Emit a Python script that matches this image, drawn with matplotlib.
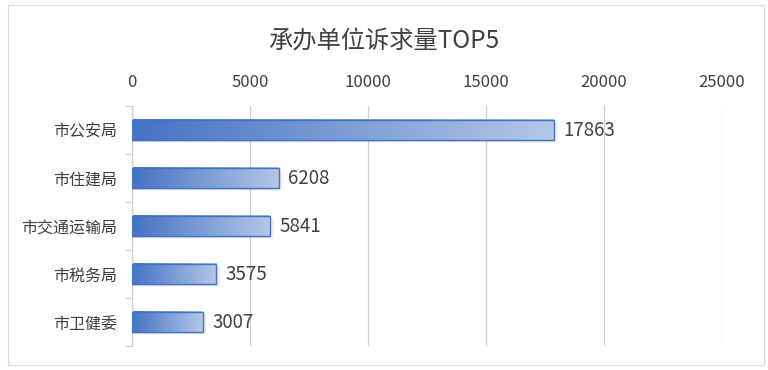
import matplotlib.pyplot as plt
import numpy as np
from matplotlib.colors import LinearSegmentedColormap
from matplotlib.patches import Rectangle

plt.rcParams['font.family'] = ['Noto Sans CJK SC', 'DejaVu Sans']

categories = ["市公安局", "市住建局", "市交通运输局", "市税务局", "市卫健委"]
values = [17863, 6208, 5841, 3575, 3007]
xticks = [0, 5000, 10000, 15000, 20000, 25000]

text_color = "#404040"
grid_color = "#D0D0D0"
grad = LinearSegmentedColormap.from_list("bar", ["#4472C4", "#B4C7E7"])

fig = plt.figure(figsize=(7.68, 3.70), dpi=100)
fig.patches.append(Rectangle((8 / 768, 5 / 370), 756 / 768, 360 / 370, transform=fig.transFigure,
                             facecolor="white", edgecolor="#D9D9D9", linewidth=0.8, zorder=-10))
ax = fig.add_axes([132 / 768, 1 - 346 / 370, 590 / 768, 240 / 370])
ax.set_facecolor("none")

bar_h = 0.42
ys = np.arange(len(categories))
gradient = np.linspace(0, 1, 256).reshape(1, -1)
for y, v in zip(ys, values):
    # soft shadow
    for k, a in enumerate([0.06, 0.05, 0.04]):
        off = 0.03 + 0.02 * k
        ax.add_patch(Rectangle((0, y - bar_h / 2 + off), v + 60 * (k + 1), bar_h,
                               facecolor="#1F3864", alpha=a, edgecolor="none", zorder=1))
    ax.imshow(gradient, cmap=grad, aspect="auto", extent=(0, v, y + bar_h / 2, y - bar_h / 2),
              zorder=2, interpolation="bilinear")
    ax.add_patch(Rectangle((0, y - bar_h / 2), v, bar_h, facecolor="none",
                           edgecolor="#4472C4", linewidth=1.0, zorder=3))
    ax.text(v + 400, y, str(v), va="center", ha="left", fontsize=13.5, color=text_color)

ax.set_xlim(0, 25000)
ax.set_ylim(len(categories) - 0.5, -0.5)
ax.set_xticks(xticks)
ax.set_xticklabels([str(t) for t in xticks])
ax.xaxis.tick_top()
ax.tick_params(axis="x", length=0, pad=11, labelsize=12, labelcolor=text_color)
ax.set_yticks(ys)
ax.set_yticklabels(categories)
ax.tick_params(axis="y", length=0, pad=11, labelsize=11.5, labelcolor=text_color)
ax.set_yticks(np.arange(-0.5, len(categories)), minor=True)
ax.tick_params(axis="y", which="minor", length=5, color=grid_color, width=0.8)
ax.grid(axis="x", color=grid_color, linewidth=0.9, zorder=0)
ax.set_axisbelow(True)
for s in ["top", "right", "bottom"]:
    ax.spines[s].set_visible(False)
ax.spines["left"].set_color(grid_color)
ax.spines["left"].set_linewidth(0.9)

fig.text(0.5, 1 - 41 / 370, "承办单位诉求量TOP5", ha="center", va="center", fontsize=17.5, color=text_color)

fig.savefig("out.png", dpi=100)
